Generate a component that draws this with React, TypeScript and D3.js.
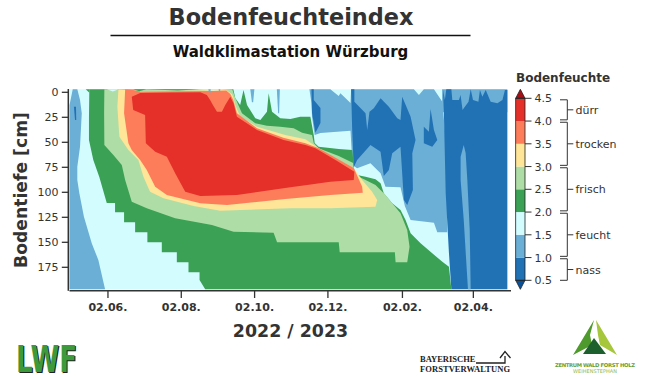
import React from "react";
import * as d3 from "d3";

type P = [number, number];
const FONT = "'DejaVu Sans', sans-serif";

// Every outline is [days since 1 May 2022, soil depth in cm]
const leftFeucht: P[] = [[2.7,-3],[6.5,-3],[8.75,7.7],[10.2,21],[8.75,54.4],[6.5,74.4],[6.5,87.7],[8.2,101],[12,124.4],[18.5,151],[24,167.7],[29.6,197],[0,197],[0,13]];
const leftNass: P[] = [[3.7,14.4],[5.4,14.4],[5.6,27.7],[4.6,27.7]];
const frischLow: P[] = [[16.5,-3],[16.2,24.7],[16.2,47.7],[19.8,67.7],[24.8,84.7],[27.9,97.7],[31,110.7],[37.9,110.7],[37.9,120],[45.4,120],[45.4,130],[54.6,130],[54.6,140],[64.8,140],[64.8,150],[76.8,150],[76.8,160],[89.3,160],[89.3,170],[99,170],[99,180],[108.2,180],[108.2,187.7],[112.9,197],[317.7,197],[315.7,174.4],[310.2,169.4],[301.8,161],[292.1,151],[283.8,141],[279.6,127.7],[275.4,117.7],[268.5,111],[261.5,101],[258.8,91],[254.6,87],[246.3,84.4],[239.3,82.7],[236.5,75.7],[236,66.7],[235.2,57.7],[224,56.7],[207.3,54.4],[204,50.7],[203.2,42.7],[200.4,24.4],[192,24.4],[183.8,26.7],[175.4,26],[168.5,19.4],[165.7,1],[164.3,19.4],[158.8,27.7],[154.6,26],[147.7,12.7],[144.8,-2.3],[142,12.7],[137.9,5.7],[136.3,-3]];
const frischHigh: P[] = [[29,-3],[28.8,20.7],[29,52.7],[36.5,62.7],[43.5,72.7],[46.3,87.7],[51.8,109.4],[64.3,116],[87.9,126],[118.5,132.7],[136.5,139.4],[169.8,140.4],[172.7,150],[224,150],[224.8,160],[270.7,160],[271.3,170],[281,170],[282.9,154.4],[281,137.7],[275.4,121],[262.9,102.7],[254.6,92.7],[246.3,87.7],[239.3,83.7],[236.5,75.7],[236,70.7],[224,63.7],[207.3,56],[203.2,50.7],[201.8,42.7],[193.5,40.4],[186.5,36],[175.4,34.4],[164.3,33.4],[154.6,31],[143.5,21],[137.9,5.7],[135.4,-3]];
const trockenLow: P[] = [[40.7,-3],[39.8,14.4],[41.5,44.4],[49,57.7],[57.3,67.7],[61.5,84.4],[67,99.4],[78.2,106],[103.2,113.7],[125.4,118.4],[183.8,116],[217,116],[254.6,114.4],[256,107.7],[251.8,99.4],[243.5,87.7],[236.5,76],[221.3,66],[207.3,56],[196.3,47],[179.6,42.7],[156,34.4],[142,24.4],[137.9,12.7],[136.5,6],[135.2,2],[130.4,-2.3],[108.8,-1.8],[58.8,-1.3]];
const trockenHigh: P[] = [[46.3,-3],[45.4,21],[49,51],[51.8,57.7],[58.8,67.7],[64.3,77.7],[71.3,94.4],[81,102.7],[108.8,111],[131,112.7],[179.6,106.7],[217,102.7],[244,100.4],[243.5,94.4],[236.5,75.7],[207.3,56],[196.3,51],[177.9,45.4],[156,36],[139.3,21],[136.3,7.7],[133.8,1.7],[130.4,-1.8],[119.6,-1.3],[58.8,-0.8],[53,-2.3]];
const duerr: P[] = [[51.8,4.4],[53,17.7],[62.9,22.7],[63.5,51],[71.3,59.4],[81,64.4],[87.9,81],[96.3,99.4],[108.8,103.7],[139.3,102.7],[183.8,95],[197.7,92.7],[217,89.4],[236.5,87.7],[237,79.4],[221.3,67.7],[204.6,56],[196.3,52.7],[178.2,47.7],[156,37.7],[139.3,24.4],[136.5,11],[133.8,4.4],[129.6,12.7],[126.8,19.4],[122.7,19.4],[119.3,12.7],[117,7.7],[114.3,2.7],[108.8,0],[83.8,0.2],[58.8,0.7]];
const rightFeucht: P[] = [[199.6,-3],[201.3,10.7],[201.8,24.7],[204,42.7],[208.8,40.7],[233.8,38.4],[235.4,72.7],[239.3,76],[250.4,71],[258.8,81],[262.9,94.4],[275.4,95],[279,113.7],[283.8,127.7],[303.2,130.4],[306,140],[314.3,140],[313.8,57.7],[310.2,9.4],[303.2,-3],[294.8,-3],[290.7,2.7],[286.5,-3],[234.3,-3],[233.8,10.7],[225.4,1],[224,3.7],[217,-3]];
const topFeucht: P[] = [[310,-3],[364.3,-3],[364.3,20],[310,20]];
const stripeA: P[] = [[150.4,-3],[153.8,-3],[152.8,10],[151.8,10]];
const stripeB: P[] = [[172.5,-3],[175,-3],[174.4,21],[173.6,21]];
const stripeC: P[] = [[115.5,-3],[117.5,-3],[116.8,4]];
const stripeD: P[] = [[124,-3],[125.5,-3],[125,2]];
const sliver: P[] = [[328,52.7],[325.4,64.4],[325.4,87.7],[328,127.7],[331.5,197],[333.8,197],[333,137.7],[331,87.7],[329.6,60.7]];
const nassA: P[] = [[201.3,-3],[203.2,-3],[203.2,7.7],[208.8,15.7],[208.8,30.7],[204.6,40.4],[201.8,20.7]];
const nassB: P[] = [[234.3,-3],[237,-3],[237,9.4],[246.3,21],[247.7,37.7],[249.6,19.4],[253.2,16],[258.8,6],[265.7,14.4],[272.7,26],[275.4,27.7],[276.8,4.4],[283.8,24.4],[287.9,47.7],[285.2,61],[285.7,97.7],[281,112.7],[278.2,107.7],[275.4,54.4],[268.5,61],[265.7,77.7],[261.5,83.7],[258.8,59.4],[250.4,52.7],[239.3,67.7],[236.5,75],[235.2,37.7]];
const nassC: P[] = [[300.4,16.7],[303.2,37.7],[306,47.7],[301.8,54.4],[294.8,51],[294.8,34.4],[299,39.4]];
const nassD: P[] = [[310.7,-3],[312.3,7.7],[313.5,-3],[317.7,-3],[318.5,7.7],[324,7.7],[325.4,2.7],[327,17.7],[332,9.4],[333.8,-3],[335.7,7.7],[340.2,9.4],[341.5,-2.3],[343.5,4.4],[346.3,-2.3],[350.4,9.4],[356,11],[360.2,7.7],[362.3,-2.3],[364.3,-2.3],[364.3,197],[317.7,197],[315.7,160.7],[313,100.7],[311.5,20.7]];
const tuftA: P[] = [[13.5,-3],[16.6,-3],[16.6,0.5]];
const tuftB: P[] = [[53,-3],[64,-3],[58,-1]];
const tuftC: P[] = [[64,-3],[108,-3],[90,-1.8]];
const notchA: P[] = [[31,-3],[41,-3],[36,-0.8]];
const notchB: P[] = [[100,-3],[135,-3],[120,-1.8]];

const yTicks = [0, 25, 50, 75, 100, 125, 150, 175];
const xTickDates = ["2022-06-02", "2022-08-02", "2022-10-02", "2022-12-02", "2023-02-02", "2023-04-02"];
const cbLevels = [0.5, 1, 1.5, 2, 2.5, 3, 3.5, 4, 4.5];
const cbColors = ["#2171b5", "#6baed6", "#d3fcff", "#3ba155", "#aedda6", "#fee597", "#fd7d5a", "#e5302a"];
const classes: [string, number, number][] = [["dürr", 4, 4.5], ["trocken", 3, 4], ["frisch", 2, 3], ["feucht", 1, 2], ["nass", 0.5, 1]];

const layers: [P[][], number][] = [
  [[leftFeucht, topFeucht, stripeA, stripeB, rightFeucht], 1],
  [[leftNass], 0],
  [[frischLow, tuftA], 3],
  [[frischHigh], 4],
  [[trockenLow], 5],
  [[trockenHigh], 6],
  [[duerr], 7],
  [[nassA, nassB, nassC, nassD], 0],
  [[sliver], 1],
  [[notchA, notchB], 2],
  [[tuftB, tuftC], 3],
  [[stripeC, stripeD], 1],
];

const start = new Date(2022, 4, 1);
const end = new Date(2023, 3, 30);
const x = d3.scaleTime().domain([start, end]).range([69.5, 507]);
const y = d3.scaleLinear().domain([-3, 197]).range([89.3, 289.3]);
const c = d3.scaleLinear().domain([0.5, 4.5]).range([280.3, 98.3]);
const fmt = d3.timeFormat("%d.%m.");
const parse = d3.timeParse("%Y-%m-%d");
const path = d3.line<P>()
  .x((d) => x(new Date(start.getTime() + d[0] * 864e5)))
  .y((d) => y(d[1]));
const axisColor = "#333";

export default function App() {
  return (
    <svg width={646} height={376} style={{ position: "absolute", left: 0, top: 0 }} fontFamily={FONT}>
      <rect width={646} height={376} fill="#fff" />
      <text x={291} y={25} textAnchor="middle" fontSize={22.4} fontWeight="bold" fill="#333">Bodenfeuchteindex</text>
      <line x1={110.5} x2={470.5} y1={35.5} y2={35.5} stroke="#111" strokeWidth={1.4} />
      <text x={290.5} y={57} textAnchor="middle" fontSize={15} fontWeight="bold" fill="#111">Waldklimastation Würzburg</text>

      <rect x={69.5} y={89.3} width={437.5} height={200} fill={cbColors[2]} />
      {layers.map(([polys, ci], i) => (
        <g key={i} fill={cbColors[ci]}>
          {polys.map((p, j) => <path key={j} d={path(p) + "Z"} />)}
        </g>
      ))}

      {/* y axis */}
      <line x1={68.3} x2={68.3} y1={89} y2={290.8} stroke={axisColor} strokeWidth={1.5} />
      {yTicks.map((t) => (
        <g key={t}>
          <line x1={61.8} x2={68.3} y1={y(t)} y2={y(t)} stroke={axisColor} strokeWidth={1.3} />
          <text x={58.5} y={y(t) + 4} textAnchor="end" fontSize={11} fill="#333">{t}</text>
        </g>
      ))}
      <text transform="translate(27,190) rotate(-90)" textAnchor="middle" fontSize={17.2} fontWeight="bold" fill="#333">Bodentiefe [cm]</text>

      {/* x axis */}
      <line x1={69.5} x2={511} y1={290.8} y2={290.8} stroke={axisColor} strokeWidth={1.5} />
      {xTickDates.map((s) => {
        const d = parse(s) as Date;
        return (
          <g key={s}>
            <line x1={x(d)} x2={x(d)} y1={290.8} y2={298} stroke={axisColor} strokeWidth={1.3} />
            <text x={x(d)} y={311} textAnchor="middle" fontSize={11} fontWeight="bold" fill="#333">{fmt(d)}</text>
          </g>
        );
      })}
      <text x={290.5} y={336.5} textAnchor="middle" fontSize={17.4} fontWeight="bold" fill="#333">2022 / 2023</text>

      {/* colour bar */}
      <text x={516} y={82} fontSize={12} fontWeight="bold" fill="#333">Bodenfeuchte</text>
      {cbColors.map((col, i) => (
        <rect key={i} x={515.7} width={9.3} y={c(cbLevels[i + 1])} height={c(cbLevels[i]) - c(cbLevels[i + 1])} fill={col} />
      ))}
      <path d={`M515.7,${c(4.5)}L520.35,${c(4.5) - 9}L525,${c(4.5)}Z`} fill="#a50f15" stroke="#222" strokeWidth={0.8} />
      <path d={`M515.7,${c(0.5)}L520.35,${c(0.5) + 9}L525,${c(0.5)}Z`} fill="#08519c" stroke="#222" strokeWidth={0.8} />
      <rect x={515.7} width={9.3} y={c(4.5)} height={c(0.5) - c(4.5)} fill="none" stroke="#222" strokeWidth={0.8} />
      {cbLevels.map((l) => (
        <g key={l}>
          <line x1={525} x2={531.5} y1={c(l)} y2={c(l)} stroke="#333" strokeWidth={1} />
          <text x={534.5} y={c(l) + 4} fontSize={11} fill="#333">{l.toFixed(1)}</text>
        </g>
      ))}
      {classes.map(([name, lo, hi]) => {
        const top = c(hi) + (hi === 4.5 ? 1.5 : 1.2);
        const bot = c(lo) - (lo === 0.5 ? 0 : 1.2);
        const mid = (top + bot) / 2;
        return (
          <g key={name}>
            <path d={`M560,${top}H567.3V${bot}H560`} fill="none" stroke="#333" strokeWidth={1} />
            <line x1={567.3} x2={573.3} y1={mid} y2={mid} stroke="#333" strokeWidth={1} />
            <text x={575.5} y={mid + 4} fontSize={11} fill="#333">{name}</text>
          </g>
        );
      })}

      {/* LWF logo */}
      <text transform="translate(17,372.5) scale(0.685,1)" fontSize={38} fontWeight="bold" fill="#222">LWF</text>
      <text transform="translate(16,372) scale(0.685,1)" fontSize={38} fontWeight="bold" fill="#3c9a3c">LWF</text>

      {/* Forstverwaltung logo */}
      <g fontFamily="'Liberation Serif', serif" fontWeight="bold" fontSize={8.5} fill="#222">
        <text x={420} y={362} textLength={55.5}>BAYERISCHE</text>
        <text x={420} y={372} textLength={90}>FORSTVERWALTUNG</text>
      </g>
      <path d="M476,363H505V356M500,358L505,351.5L510.5,358" fill="none" stroke="#222" strokeWidth={1.3} />

      {/* ZWFH logo */}
      <path d="M594,320L573,355L592,345L590,335Z" fill="#4f9a2c" />
      <path d="M596,320L617,355L600,345L598,335Z" fill="#a6c63c" />
      <path d="M594,338L583,354H606Z" fill="#1e5f2e" />
      <text x={595} y={367} textAnchor="middle" fontSize={5.3} fontWeight="bold" fill="#6a9e2e" textLength={80}>ZENTRUM WALD FORST HOLZ</text>
      <text x={595} y={372.5} textAnchor="middle" fontSize={5} fill="#8fb84a" textLength={44}>WEIHENSTEPHAN</text>
    </svg>
  );
}
